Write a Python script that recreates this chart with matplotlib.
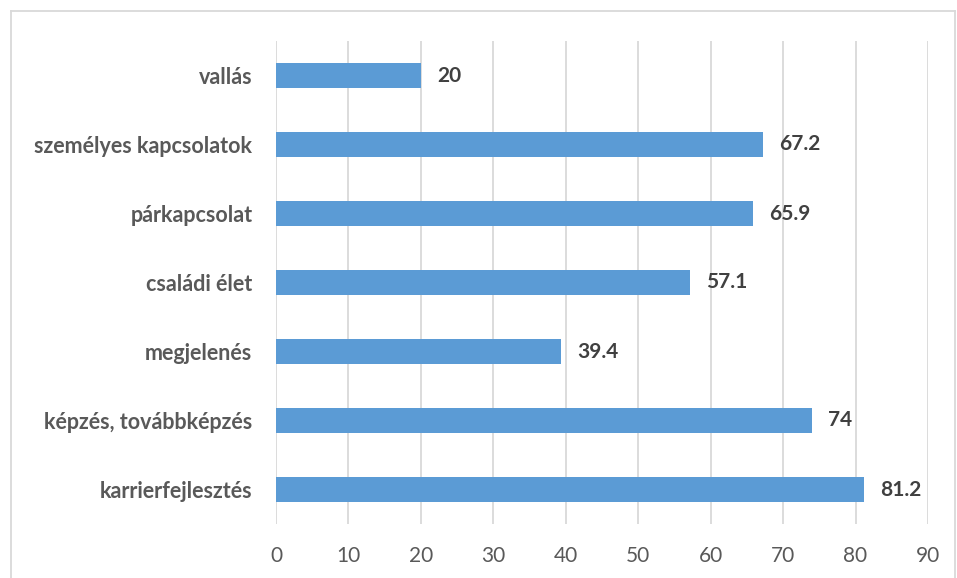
import matplotlib
matplotlib.use("Agg")
import matplotlib.pyplot as plt
from matplotlib.lines import Line2D

plt.rcParams['font.family'] = ['Lato', 'DejaVu Sans']

categories = ["karrierfejlesztés", "képzés, továbbképzés", "megjelenés",
              "családi élet", "párkapcsolat", "személyes kapcsolatok", "vallás"]
values = [81.2, 74, 39.4, 57.1, 65.9, 67.2, 20]
value_labels = ["81.2", "74", "39.4", "57.1", "65.9", "67.2", "20"]
xticks = [0, 10, 20, 30, 40, 50, 60, 70, 80, 90]

fig = plt.figure(figsize=(9.57, 5.78), dpi=100)
ax = fig.add_axes([276 / 957, 54 / 578, 652 / 957, 483 / 578])

bar_color = "#5B9BD5"
ax.barh(range(len(categories)), values, height=0.35, color=bar_color, zorder=3)

for i, (v, lab) in enumerate(zip(values, value_labels)):
    ax.text(v + 2.2, i, lab, va="center", ha="left", fontsize=15,
            fontweight="bold", color="#404040")

ax.set_xlim(0, 90)
ax.set_ylim(-0.5, len(categories) - 0.5)
ax.set_xticks(xticks)
ax.set_xticklabels([str(t) for t in xticks], fontsize=15, color="#595959")
ax.set_yticks(range(len(categories)))
ax.set_yticklabels(categories, fontsize=15.5, fontweight="bold", color="#595959")
ax.tick_params(axis="both", length=0)
ax.tick_params(axis="x", pad=16)
ax.tick_params(axis="y", pad=17)
ax.xaxis.grid(True, color="#D9D9D9", linewidth=1.3, zorder=0)
for s in ax.spines.values():
    s.set_visible(False)

# chart border
bc = "#D9D9D9"
fig.add_artist(Line2D([10.5 / 957, 10.5 / 957], [0, 1 - 11 / 578], color=bc, lw=1.3))
fig.add_artist(Line2D([10.5 / 957, 954.5 / 957], [1 - 11 / 578, 1 - 11 / 578], color=bc, lw=1.3))
fig.add_artist(Line2D([954.5 / 957, 954.5 / 957], [0, 1 - 11 / 578], color=bc, lw=1.3))

fig.savefig("out.png", dpi=100)
